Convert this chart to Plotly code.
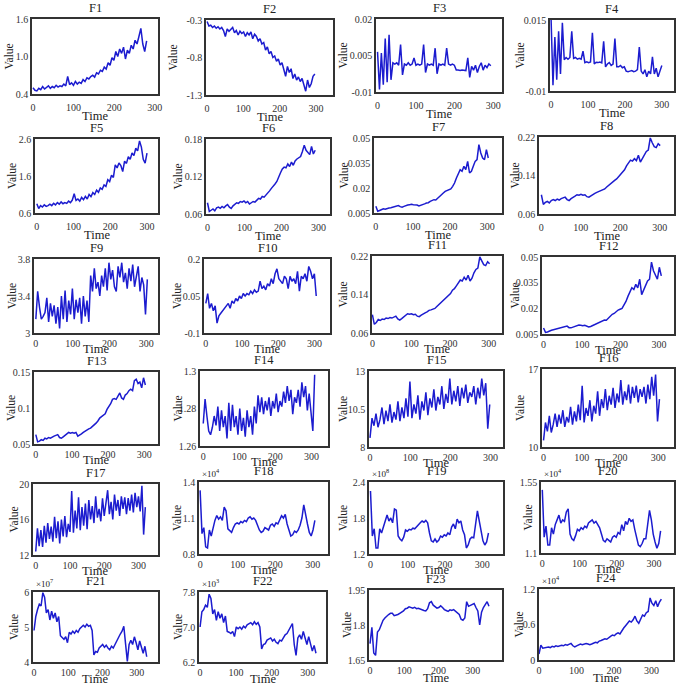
import plotly.graph_objects as go

# ---- data: one series per panel ----
f1 = [0.50, 0.46, 0.45, 0.49, 0.47, 0.52, 0.48, 0.50, 0.53, 0.49, 0.52, 0.50, 0.54, 0.51, 0.53, 0.52, 0.56, 0.53,
      0.68, 0.55, 0.58, 0.54, 0.60, 0.56, 0.59, 0.57, 0.63, 0.60, 0.66, 0.64, 0.68, 0.70, 0.67, 0.74, 0.72, 0.78,
      0.76, 0.83, 0.80, 0.90, 0.86, 0.98, 0.94, 1.08, 1.00, 1.12, 1.05, 1.15, 0.96, 1.10, 1.05, 1.18, 1.12, 1.26,
      1.20, 1.32, 1.45, 1.20, 1.08, 1.25]
f2 = [-0.32, -0.38, -0.37, -0.40, -0.38, -0.41, -0.39, -0.42, -0.40, -0.44, -0.52, -0.42, -0.45, -0.43, -0.40,
      -0.47, -0.44, -0.50, -0.45, -0.48, -0.46, -0.52, -0.47, -0.50, -0.46, -0.55, -0.49, -0.52, -0.58, -0.55,
      -0.62, -0.60, -0.70, -0.66, -0.75, -0.72, -0.80, -0.78, -0.85, -0.82, -0.90, -0.87, -0.95, -1.05, -0.92,
      -1.00, -0.95, -1.08, -1.02, -1.10, -1.06, -1.12, -1.08, -1.18, -1.25, -1.10, -1.20, -1.15, -1.05, -1.02]
f3 = [0.0065, -0.009, 0.006, -0.007, 0.012, -0.006, 0.0135, -0.005, 0.002, 0.0015, 0.002, 0.001, 0.0095, -0.003,
      0.0015, 0.001, 0.002, 0.001, 0.0015, 0.004, 0.001, 0.0015, 0.001, 0.0015, 0.0095, -0.002, 0.0015, 0.001,
      0.0015, 0.001, 0.008, -0.0025, 0.0015, 0.001, 0.0015, 0.001, 0.008, 0.0015, 0.001, 0.0015, 0.001, -0.001,
      -0.001, -0.0012, -0.001, -0.001, -0.0012, 0.004, -0.004, 0.0005, -0.001, 0.001, -0.002, 0.0005, 0.002,
      -0.001, 0.001, 0.0, 0.0015, 0.0008]
f4 = [0.015, -0.008, 0.009, -0.006, 0.011, -0.004, 0.014, 0.001, 0.0018, 0.0012, 0.0018, 0.011, 0.0015, 0.0018,
      0.0012, 0.0015, 0.0012, 0.004, 0.0, 0.0003, 0.0, 0.0002, 0.0105, -0.0005, 0.0001, 0.0, 0.0002, -0.0001,
      0.0075, -0.0015, -0.0005, 0.0, -0.001, -0.0005, 0.0085, -0.0015, -0.0015, -0.001, -0.0018, -0.0015, -0.003,
      -0.0032, -0.003, -0.0028, -0.0032, -0.003, -0.0025, 0.0055, -0.003, -0.004, -0.0025, -0.005, -0.003, -0.004,
      0.002, -0.004, -0.002, -0.005, -0.003, -0.001]
f5 = [0.85, 0.72, 0.80, 0.76, 0.82, 0.78, 0.80, 0.84, 0.80, 0.86, 0.82, 0.88, 0.84, 0.90, 0.85, 0.88, 0.86, 0.92,
      0.88, 0.95, 1.12, 0.94, 0.98, 0.92, 1.02, 0.96, 1.05, 0.98, 1.10, 1.04, 1.15, 1.10, 1.22, 1.16, 1.28, 1.24,
      1.36, 1.32, 1.50, 1.45, 1.62, 1.56, 1.90, 1.82, 1.95, 1.88, 1.72, 2.00, 1.94, 2.12, 2.05, 2.22, 2.15, 2.35,
      2.28, 2.55, 2.38, 2.05, 1.95, 2.22]
f6 = [0.078, 0.064, 0.066, 0.068, 0.065, 0.070, 0.071, 0.069, 0.072, 0.070, 0.073, 0.075, 0.071, 0.069, 0.073,
      0.075, 0.078, 0.077, 0.080, 0.079, 0.081, 0.078, 0.080, 0.076, 0.078, 0.080, 0.079, 0.082, 0.085, 0.084,
      0.088, 0.087, 0.090, 0.094, 0.097, 0.101, 0.104, 0.108, 0.112, 0.120, 0.126, 0.132, 0.135, 0.134, 0.140,
      0.136, 0.143, 0.138, 0.145, 0.148, 0.150, 0.152, 0.160, 0.170, 0.162, 0.158, 0.155, 0.168, 0.156, 0.162]
f7 = [0.009, 0.006, 0.0065, 0.007, 0.0075, 0.0072, 0.0078, 0.008, 0.0082, 0.0085, 0.0088, 0.0092, 0.0095, 0.0088,
      0.0085, 0.009, 0.0095, 0.0098, 0.01, 0.0102, 0.0099, 0.01, 0.0098, 0.0092, 0.0095, 0.0098, 0.0105, 0.011,
      0.0112, 0.012, 0.0125, 0.013, 0.0128, 0.014, 0.015, 0.016, 0.017, 0.018, 0.0185, 0.019, 0.0195, 0.021,
      0.023, 0.026, 0.029, 0.031, 0.030, 0.033, 0.031, 0.036, 0.029, 0.030, 0.033, 0.036, 0.037, 0.046, 0.041,
      0.038, 0.037, 0.043, 0.038]
f8 = [0.100, 0.080, 0.084, 0.086, 0.083, 0.088, 0.090, 0.088, 0.091, 0.089, 0.092, 0.094, 0.095, 0.090, 0.088,
      0.092, 0.094, 0.097, 0.100, 0.099, 0.101, 0.099, 0.100, 0.096, 0.095, 0.098, 0.101, 0.103, 0.105, 0.107,
      0.109, 0.110, 0.112, 0.116, 0.120, 0.122, 0.126, 0.130, 0.133, 0.138, 0.142, 0.148, 0.152, 0.160, 0.165,
      0.172, 0.170, 0.175, 0.171, 0.182, 0.168, 0.175, 0.182, 0.190, 0.193, 0.218, 0.208, 0.200, 0.198, 0.206,
      0.202]
f9 = [3.15, 3.45, 3.28, 3.15, 3.18, 3.22, 3.38, 3.12, 3.32, 3.18, 3.30, 3.10, 3.28, 3.05, 3.40, 3.15, 3.46, 3.12,
      3.35, 3.20, 3.48, 3.15, 3.36, 3.22, 3.38, 3.10, 3.40, 3.18, 3.35, 3.12, 3.62, 3.45, 3.70, 3.48, 3.55, 3.40,
      3.62, 3.50, 3.70, 3.46, 3.76, 3.58, 3.68, 3.50, 3.45, 3.72, 3.60, 3.76, 3.55, 3.65, 3.48, 3.70, 3.56, 3.74,
      3.50, 3.62, 3.72, 3.45, 3.60, 3.52, 3.20, 3.58]
f10 = [0.02, 0.06, 0.00, 0.02, -0.01, 0.01, -0.06, -0.03, -0.02, -0.01, 0.00, 0.01, 0.02, 0.00, 0.03, 0.02, 0.04,
       0.03, 0.05, 0.04, 0.06, 0.05, 0.06, 0.055, 0.07, 0.06, 0.075, 0.065, 0.07, 0.11, 0.08, 0.09, 0.075, 0.10,
       0.09, 0.12, 0.10, 0.14, 0.16, 0.12, 0.11, 0.10, 0.13, 0.12, 0.08, 0.13, 0.11, 0.12, 0.10, 0.15, 0.07, 0.13,
       0.12, 0.14, 0.11, 0.17, 0.15, 0.12, 0.14, 0.05]
f11 = [0.098, 0.078, 0.082, 0.088, 0.086, 0.089, 0.088, 0.091, 0.090, 0.092, 0.091, 0.093, 0.095, 0.089, 0.087,
       0.090, 0.094, 0.098, 0.100, 0.099, 0.100, 0.098, 0.099, 0.095, 0.094, 0.097, 0.100, 0.102, 0.104, 0.107,
       0.108, 0.110, 0.111, 0.115, 0.119, 0.123, 0.127, 0.131, 0.134, 0.137, 0.142, 0.149, 0.152, 0.158, 0.164,
       0.170, 0.168, 0.176, 0.170, 0.180, 0.168, 0.174, 0.185, 0.192, 0.195, 0.218, 0.210, 0.202, 0.200, 0.208,
       0.204]
f12 = [0.0085, 0.006, 0.0062, 0.0068, 0.0072, 0.0075, 0.0078, 0.008, 0.0085, 0.0088, 0.009, 0.0094, 0.0096,
       0.0087, 0.0086, 0.009, 0.0094, 0.0098, 0.0102, 0.0101, 0.0098, 0.0101, 0.0097, 0.0091, 0.0094, 0.0099,
       0.0106, 0.0112, 0.0114, 0.0122, 0.0126, 0.0132, 0.013, 0.0142, 0.0155, 0.0165, 0.017, 0.0182, 0.019,
       0.0195, 0.020, 0.022, 0.024, 0.027, 0.030, 0.032, 0.031, 0.034, 0.032, 0.037, 0.028, 0.031, 0.034, 0.036,
       0.037, 0.047, 0.042, 0.039, 0.037, 0.044, 0.039]
f13 = [0.063, 0.053, 0.054, 0.056, 0.055, 0.058, 0.057, 0.059, 0.058, 0.060, 0.061, 0.062, 0.063, 0.059, 0.058,
       0.060, 0.062, 0.064, 0.066, 0.065, 0.066, 0.065, 0.066, 0.061, 0.062, 0.064, 0.066, 0.068, 0.070, 0.071,
       0.072, 0.074, 0.076, 0.079, 0.082, 0.086, 0.088, 0.090, 0.092, 0.098, 0.102, 0.106, 0.112, 0.113, 0.112,
       0.116, 0.121, 0.114, 0.112, 0.118, 0.120, 0.124, 0.126, 0.124, 0.138, 0.140, 0.134, 0.136, 0.128, 0.142,
       0.132]
f14 = [1.272, 1.285, 1.276, 1.268, 1.266, 1.270, 1.276, 1.271, 1.281, 1.268, 1.279, 1.270, 1.276, 1.264, 1.283,
       1.268, 1.282, 1.270, 1.276, 1.266, 1.280, 1.268, 1.275, 1.265, 1.279, 1.270, 1.276, 1.266, 1.281, 1.272,
       1.287, 1.278, 1.286, 1.277, 1.284, 1.279, 1.286, 1.276, 1.284, 1.280, 1.288, 1.278, 1.284, 1.281, 1.289,
       1.283, 1.292, 1.284, 1.290, 1.277, 1.286, 1.283, 1.290, 1.281, 1.294, 1.286, 1.292, 1.279, 1.288, 1.276,
       1.268, 1.298]
f15 = [8.6, 9.9, 9.4, 10.2, 9.3, 9.8, 10.6, 9.5, 10.4, 9.7, 10.8, 9.6, 10.3, 9.8, 11.0, 9.7, 10.6, 9.9, 11.2, 10.0,
       12.3, 9.9, 10.8, 10.2, 11.4, 9.8, 11.0, 10.4, 11.6, 10.1, 11.2, 10.6, 11.8, 10.4, 11.3, 10.8, 12.0, 10.5,
       11.5, 10.9, 12.5, 10.8, 11.7, 11.0, 12.0, 10.7, 11.9, 11.2, 12.1, 10.9, 11.6, 11.3, 12.0, 10.8, 11.9, 11.2,
       12.5, 11.4, 12.2, 9.2, 10.8]
f16 = [10.6, 12.2, 11.4, 12.8, 11.3, 12.0, 13.0, 11.8, 12.9, 12.1, 13.3, 11.8, 12.7, 12.2, 13.6, 12.0, 13.2, 12.3,
       13.8, 12.4, 15.5, 12.2, 13.5, 12.8, 14.2, 12.3, 13.7, 13.0, 15.0, 12.8, 14.3, 13.5, 15.2, 13.3, 14.6, 13.8,
       15.3, 13.5, 14.8, 14.0, 16.0, 13.8, 15.0, 14.2, 15.6, 13.9, 15.4, 14.4, 15.5, 14.0, 15.2, 14.5, 15.4, 13.9,
       15.6, 14.3, 16.3, 14.6, 16.5, 12.3, 14.3]
f17 = [12.4, 15.0, 13.0, 14.8, 12.9, 15.3, 13.4, 15.6, 13.8, 15.2, 13.5, 16.3, 13.9, 15.8, 13.3, 16.0, 14.1, 16.4,
       14.0, 15.5, 14.6, 19.2, 14.5, 17.0, 15.0, 18.5, 14.8, 17.4, 15.3, 17.8, 14.9, 18.2, 16.0, 17.5, 15.6, 18.6,
       16.2, 17.2, 15.8, 18.4, 16.4, 17.8, 19.3, 16.6, 18.0, 16.0, 18.8, 17.0, 18.2, 16.4, 18.6, 17.2, 18.5, 16.6,
       18.4, 17.0, 18.8, 16.8, 19.0, 17.4, 18.6, 16.9, 19.8, 14.3, 17.4]
f18 = [1.33, 0.97, 1.02, 0.86, 0.85, 1.00, 0.95, 1.03, 1.08, 1.12, 1.09, 1.11, 1.08, 1.19, 1.16, 1.01, 0.99, 0.98,
       1.02, 1.05, 1.06, 1.05, 1.07, 1.06, 1.08, 1.07, 1.10, 1.11, 1.09, 1.10, 1.08, 1.03, 1.00, 0.98, 0.99, 1.02,
       1.01, 1.00, 1.04, 1.05, 1.03, 1.06, 1.05, 1.08, 1.12, 1.10, 1.13, 1.05, 1.00, 0.95, 0.96, 0.99, 0.98, 1.00,
       1.04, 1.10, 1.21, 1.12, 1.05, 0.98, 0.95, 1.00, 1.08]
f19 = [2.25, 1.50, 1.62, 1.30, 1.30, 1.62, 1.55, 1.65, 1.78, 1.85, 1.75, 1.80, 1.72, 1.95, 1.93, 1.50, 1.45, 1.42,
       1.48, 1.60, 1.58, 1.61, 1.60, 1.63, 1.62, 1.66, 1.70, 1.72, 1.75, 1.73, 1.76, 1.72, 1.55, 1.42, 1.40, 1.45,
       1.40, 1.43, 1.50, 1.48, 1.52, 1.50, 1.55, 1.52, 1.65, 1.70, 1.62, 1.78, 1.72, 1.75, 1.60, 1.52, 1.30, 1.35,
       1.45, 1.48, 1.47, 1.70, 1.92, 1.75, 1.55, 1.42, 1.35, 1.40, 1.55]
f20 = [1.50, 1.20, 1.27, 1.15, 1.15, 1.26, 1.22, 1.28, 1.31, 1.34, 1.29, 1.31, 1.30, 1.36, 1.38, 1.22, 1.19, 1.18,
       1.21, 1.25, 1.24, 1.26, 1.25, 1.27, 1.26, 1.29, 1.30, 1.31, 1.29, 1.30, 1.28, 1.26, 1.22, 1.18, 1.17, 1.19,
       1.18, 1.17, 1.20, 1.21, 1.20, 1.23, 1.22, 1.28, 1.24, 1.30, 1.28, 1.32, 1.30, 1.31, 1.25, 1.20, 1.15, 1.14,
       1.16, 1.19, 1.19, 1.28, 1.37, 1.31, 1.22, 1.17, 1.13, 1.16, 1.24]
f21 = [4.90, 5.30, 5.50, 5.65, 5.60, 5.98, 5.85, 5.40, 5.50, 5.20, 5.45, 5.25, 5.40, 5.15, 5.30, 4.75, 4.70, 4.65,
       4.72, 4.55, 4.85, 4.80, 4.88, 4.82, 4.90, 4.85, 4.95, 5.00, 5.05, 5.00, 5.08, 5.02, 5.05, 4.90, 4.20, 4.30,
       4.28, 4.40, 4.45, 4.50, 4.42, 4.48, 4.40, 4.35, 4.45, 4.40, 4.50, 4.62, 4.70, 4.80, 4.88, 5.02, 4.55, 4.02,
       4.50, 4.62, 4.50, 4.72, 4.55, 4.35, 4.60, 4.45, 4.25, 4.45, 4.15]
f22 = [7.00, 7.35, 7.40, 7.50, 7.45, 7.75, 7.65, 7.30, 7.40, 7.15, 7.35, 7.20, 7.30, 7.10, 7.25, 6.90, 6.88, 6.85,
       6.90, 6.78, 7.00, 6.96, 7.00, 6.95, 7.02, 6.98, 7.05, 7.08, 7.10, 7.05, 7.12, 7.06, 7.10, 7.00, 6.50, 6.60,
       6.62, 6.70, 6.72, 6.75, 6.68, 6.72, 6.65, 6.62, 6.70, 6.68, 6.75, 6.82, 6.85, 6.92, 6.98, 7.08, 6.60, 6.35,
       6.75, 6.82, 6.72, 6.90, 6.75, 6.60, 6.78, 6.62, 6.45, 6.58, 6.40]
f23 = [1.72, 1.79, 1.68, 1.67, 1.77, 1.78, 1.80, 1.82, 1.83, 1.84, 1.845, 1.85, 1.85, 1.84, 1.842, 1.845, 1.85,
       1.855, 1.86, 1.87, 1.872, 1.878, 1.875, 1.872, 1.876, 1.87, 1.872, 1.868, 1.865, 1.862, 1.86, 1.87, 1.895,
       1.90, 1.885, 1.88, 1.872, 1.875, 1.882, 1.875, 1.866, 1.862, 1.858, 1.865, 1.862, 1.866, 1.858, 1.85, 1.845,
       1.825, 1.82, 1.83, 1.90, 1.88, 1.885, 1.888, 1.892, 1.875, 1.86, 1.80, 1.855, 1.875, 1.885, 1.90, 1.88]
f24 = [0.10, 0.25, 0.20, 0.21, 0.22, 0.22, 0.21, 0.23, 0.22, 0.24, 0.23, 0.24, 0.25, 0.24, 0.26, 0.25, 0.26, 0.28,
       0.24, 0.22, 0.24, 0.25, 0.27, 0.26, 0.27, 0.28, 0.27, 0.26, 0.27, 0.28, 0.30, 0.29, 0.32, 0.33, 0.34, 0.36,
       0.35, 0.38, 0.40, 0.42, 0.41, 0.44, 0.46, 0.44, 0.50, 0.54, 0.58, 0.62, 0.66, 0.64, 0.68, 0.74, 0.66, 0.62,
       0.70, 0.76, 0.74, 0.80, 0.82, 1.05, 0.96, 0.92, 1.00, 0.90, 0.98, 1.03]

series = [f1, f2, f3, f4, f5, f6, f7, f8, f9, f10, f11, f12,
          f13, f14, f15, f16, f17, f18, f19, f20, f21, f22, f23, f24]
names = ["F%d" % (i + 1) for i in range(24)]

# last time index of each series
t_end = [280, 297, 294, 300, 300, 291, 303, 301, 303, 305, 302, 306,
         303, 309, 298, 303, 320, 306, 317, 318, 329, 323, 347, 326]

# y tick labels (first and last are the axis limits)
y_ticks = [
    ["0.4", "1.0", "1.6"], ["-1.3", "-0.8", "-0.3"], ["-0.01", "0.005", "0.02"], ["-0.01", "0.015"],
    ["0.6", "1.6", "2.6"], ["0.06", "0.12", "0.18"], ["0.005", "0.02", "0.035", "0.05"], ["0.06", "0.14", "0.22"],
    ["3", "3.4", "3.8"], ["-0.1", "0.05", "0.2"], ["0.06", "0.14", "0.22"], ["0.005", "0.02", "0.035", "0.05"],
    ["0.05", "0.1", "0.15"], ["1.26", "1.28", "1.3"], ["8", "10.5", "13"], ["10", "17"],
    ["12", "16", "20"], ["0.8", "1.1", "1.4"], ["1.2", "1.8", "2.4"], ["1.1", "1.55"],
    ["4", "5", "6"], ["6.2", "7.0", "7.8"], ["1.65", "1.8", "1.95"], ["0", "0.6", "1.2"],
]
x_ticks = [0, 100, 200, 300]
exponents = {18: "4", 19: "8", 20: "4", 21: "7", 22: "3", 24: "4"}

# ---- layout: panel frames in pixels [left, right, top, bottom] and x limits ----
W, H = 678, 685
boxes = [
    [32, 158, 19, 94], [206, 333, 20, 95], [376, 502, 19, 92], [550, 674, 20, 91],
    [35, 158, 139, 213], [206, 330, 139, 214], [374, 502, 138, 213], [539, 674, 137, 214],
    [34, 158, 259, 333], [204, 330, 259, 333], [372, 502, 256, 333], [542, 674, 257, 334],
    [34, 158, 372, 444], [200, 328, 371, 446], [369, 503, 371, 447], [542, 674, 369, 447],
    [33, 158, 484, 555], [199, 328, 482, 554], [369, 503, 482, 554], [541, 674, 482, 553],
    [33, 158, 592, 662], [199, 326, 592, 662], [369, 502, 590, 660], [539, 673, 589, 660],
]
x_lims = [
    [-2.5, 308], [-3, 347], [-4, 323], [-3, 333],
    [-5, 330], [-4, 331], [-5, 340], [-6, 336],
    [-5, 332], [-5, 343], [-1, 334], [-4, 339],
    [-5, 338], [-9, 346], [-2.5, 331], [-4, 341],
    [-8, 357], [-3, 341], [-4, 356], [-3.5, 354],
    [-3, 362], [-3, 351], [-3, 385], [0, 357],
]
# x centre of each "Value" label, pixels
value_x = [8, 173, 343, 520, 12, 177, 343, 514, 12, 177, 343, 514,
           11, 177, 343, 520, 13, 177, 343, 527, 14, 178, 347, 518]
# gap between frame bottom and the centre of "Time", pixels
time_gap = [22] * 8 + [16] * 12 + [17, 17, 18, 18]

FONT = "Liberation Serif"
LINE = "#1c1ccf"
FRAME = "#333333"

fig = go.Figure()
annotations = []
layout = {}


def label(text, xpx, ypx, size, xanchor="center", yanchor="middle", angle=0):
    return dict(text=text, x=xpx / W, y=1 - ypx / H, xref="paper", yref="paper",
                xanchor=xanchor, yanchor=yanchor, textangle=angle, showarrow=False,
                font=dict(family=FONT, size=size, color="#222"))


for i, (vals, name) in enumerate(zip(series, names)):
    n = len(vals)
    times = [t_end[i] * k / (n - 1) for k in range(n)]
    ax = "" if i == 0 else str(i + 1)
    fig.add_trace(go.Scatter(x=times, y=vals, mode="lines", xaxis="x" + ax, yaxis="y" + ax,
                             line=dict(color=LINE, width=1.5), showlegend=False))

    left, right, top, bottom = boxes[i]
    upper = i < 8
    tv = [float(s) for s in y_ticks[i]]
    layout["xaxis" + ax] = dict(
        domain=[left / W, right / W], anchor="y" + ax, range=x_lims[i], automargin=False,
        tickvals=x_ticks, ticks="", showgrid=False, zeroline=False,
        showline=True, mirror=True, linecolor=FRAME, linewidth=1.5,
        ticklabelstandoff=3 if upper else 0,
        tickfont=dict(family=FONT, size=10, color="#333"),
    )
    layout["yaxis" + ax] = dict(
        domain=[1 - bottom / H, 1 - top / H], anchor="x" + ax, range=[tv[0], tv[-1]], automargin=False,
        tickvals=tv, ticktext=y_ticks[i], ticks="", showgrid=False, zeroline=False,
        showline=True, mirror=True, linecolor=FRAME, linewidth=1.5,
        tickfont=dict(family=FONT, size=10, color="#333"),
    )
    annotations.append(label(name, (left + right) / 2, top - 2, 12.5, yanchor="bottom"))
    annotations.append(label("Time", (left + right) / 2, bottom + time_gap[i], 12.5))
    annotations.append(label("Value", value_x[i], (top + bottom) / 2, 11.5, angle=-90))
    if (i + 1) in exponents:
        annotations.append(label("\u00d710<sup>%s</sup>" % exponents[i + 1], left + 1, top - 1, 9,
                                 xanchor="left", yanchor="bottom"))

fig.update_layout(width=W, height=H, margin=dict(l=0, r=0, t=0, b=0, pad=0), autosize=False,
                  paper_bgcolor="white", plot_bgcolor="white",
                  annotations=annotations, **layout)

# the page body has a default 8px margin; drop it so the figure fills the window
fig.write_html("out.html", config={"displayModeBar": False},
               post_script="document.body.style.margin='0';")
